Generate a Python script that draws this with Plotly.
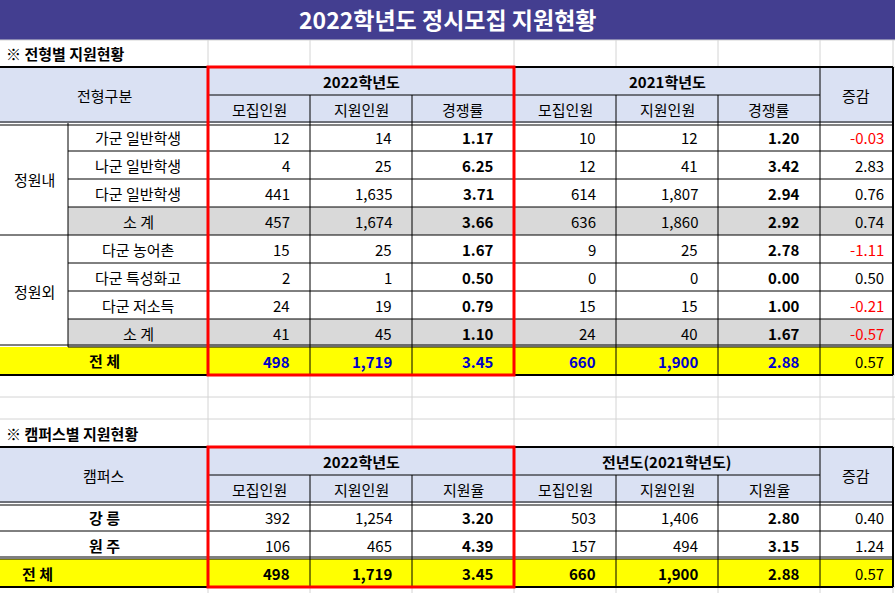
import plotly.graph_objects as go

title = "2022학년도 정시모집 지원현황"
sec1 = "※ 전형별 지원현황"
sec2 = "※ 캠퍼스별 지원현황"
groups = ["정원내", "정원외"]
types = ["가군 일반학생", "나군 일반학생", "다군 일반학생", "소 계",
         "다군 농어촌", "다군 특성화고", "다군 저소득", "소 계"]
rec22 = [12, 4, 441, 457, 15, 2, 24, 41]
app22 = [14, 25, 1635, 1674, 25, 1, 19, 45]
rat22 = [1.17, 6.25, 3.71, 3.66, 1.67, 0.50, 0.79, 1.10]
rec21 = [10, 12, 614, 636, 9, 0, 15, 24]
app21 = [12, 41, 1807, 1860, 25, 0, 15, 40]
rat21 = [1.20, 3.42, 2.94, 2.92, 2.78, 0.00, 1.00, 1.67]
diff = [-0.03, 2.83, 0.76, 0.74, -1.11, 0.50, -0.21, -0.57]
tot1 = [498, 1719, 3.45, 660, 1900, 2.88, 0.57]
campus = ["강 릉", "원 주"]
c_rec22 = [392, 106]
c_app22 = [1254, 465]
c_rat22 = [3.20, 4.39]
c_rec21 = [503, 157]
c_app21 = [1406, 494]
c_rat21 = [2.80, 3.15]
c_diff = [0.40, 1.24]
tot2 = [498, 1719, 3.45, 660, 1900, 2.88, 0.57]

W, H = 895, 593
FONT = "Noto Sans CJK KR, Malgun Gothic, sans-serif"
HDR = "#dae1f3"
GRAY = "#d9d9d9"
YEL = "#ffff00"
FS = 15
xs = [0, 68, 208, 310, 412, 514, 616, 718, 820, 893]
shapes, ann = [], []

def rect(x0, y0, x1, y1, fill=None, line=None, lw=1):
    shapes.append(dict(type="rect", x0=x0, y0=y0, x1=x1, y1=y1, xref="x", yref="y",
                       fillcolor=fill or "rgba(0,0,0,0)",
                       line=dict(color=line or "rgba(0,0,0,0)", width=lw if line else 0),
                       layer="below" if line is None else "above"))

def ln(x0, y0, x1, y1, color="black", w=1):
    shapes.append(dict(type="line", x0=x0, y0=y0, x1=x1, y1=y1, xref="x", yref="y",
                       line=dict(color=color, width=w)))

def txt(x, y, s, anchor="center", size=FS, color="black", bold=False):
    if bold:
        s = "<b>" + s + "</b>"
    ann.append(dict(x=x, y=y, text=s, xref="x", yref="y", showarrow=False,
                    xanchor=anchor, yanchor="middle", font=dict(family=FONT, size=size, color=color)))

def fmt(v, ratio):
    return f"{v:.2f}" if ratio else f"{v:,}"

for y in [40, 67, 375, 397, 419, 447, 587]:
    ln(0, y, W, y, "#d4d4d4", 1)
for x in xs[2:]:
    ln(x, 40, x, 67, "#d4d4d4", 1)
    ln(x, 375, x, 447, "#d4d4d4", 1)
    ln(x, 587, x, 593, "#d4d4d4", 1)

rect(0, 0, W, 40, fill="#433e90")
txt(W / 2, 19, title, size=23, color="white", bold=True)
txt(4, 53, sec1, "left", 15, bold=True)
txt(4, 433, sec2, "left", 15, bold=True)

def table(top, hdr_left, year22, year21, third):
    rect(0, top, 893, top + 56, fill=HDR)
    txt(104, top + 28, hdr_left)
    txt(361, top + 14, year22, bold=True)
    txt(667, top + 14, year21, bold=True)
    txt(856, top + 28, "증감")
    for i, lab in enumerate(["모집인원", "지원인원", third] * 2):
        txt((xs[2 + i] + xs[3 + i]) / 2, top + 42, lab)
    ln(208, top + 28, 820, top + 28)
    for x in xs[3:8]:
        ln(x, top + 28, x, top + 56)
    for x in [208, 514, 820]:
        ln(x, top, x, top + 56)
    ln(0, top, 893, top, w=2)
    ln(893, top, 893, top + 56, w=2)
    ln(0, top + 55, 893, top + 55)
    ln(0, top + 58, 893, top + 58)

def numrow(y0, vals, colors=None, bold_idx=(2, 5)):
    for i, v in enumerate(vals):
        ratio = i in (2, 5, 6)
        x1 = xs[3 + i]
        pad = 7 if i == 6 else 18
        col = colors[i] if colors else "black"
        txt(x1 - pad, y0 + 14, fmt(v, ratio), "right", FS, col, i in bold_idx)
    for x in xs[3:9]:
        ln(x, y0, x, y0 + 28)

table(67, "전형구분", "2022학년도", "2021학년도", "경쟁률")
for r in range(8):
    y0 = 123 + r * 28
    if types[r] == "소 계":
        rect(68, y0, 893, y0 + 28, fill=GRAY)
    txt(138, y0 + 14, types[r])
    vals = [rec22[r], app22[r], rat22[r], rec21[r], app21[r], rat21[r], diff[r]]
    cols = ["black"] * 6 + ["red" if diff[r] < 0 else "black"]
    numrow(y0, vals, colors=cols)
    ln(68, y0 + 28, 893, y0 + 28)
ln(68, 123, 68, 347)
ln(0, 235, 68, 235)
txt(34, 179, groups[0])
txt(34, 291, groups[1])
ln(893, 123, 893, 347, w=2)
rect(0, 347, 893, 375, fill=YEL)
ln(0, 345, 893, 345)
txt(104, 360, "전 체", bold=True)
numrow(347, tot1, colors=["#0000cc"] * 6 + ["black"], bold_idx=(0, 1, 2, 3, 4, 5))
ln(208, 347, 208, 375)
ln(0, 375, 893, 375, w=2)
ln(893, 347, 893, 375, w=2)
rect(208, 67, 514, 375, line="red", lw=3)

table(447, "캠퍼스", "2022학년도", "전년도(2021학년도)", "지원율")
for r in range(2):
    y0 = 503 + r * 28
    txt(104, y0 + 14, campus[r], bold=True)
    vals = [c_rec22[r], c_app22[r], c_rat22[r], c_rec21[r], c_app21[r], c_rat21[r], c_diff[r]]
    numrow(y0, vals)
    ln(0, y0 + 28, 893, y0 + 28)
    ln(208, y0, 208, y0 + 28)
ln(893, 503, 893, 559, w=2)
rect(0, 559, 893, 587, fill=YEL)
ln(0, 557, 893, 557)
txt(20, 573, "전 체", "left", bold=True)
numrow(559, tot2, bold_idx=(0, 1, 2, 3, 4, 5))
ln(208, 559, 208, 587)
ln(0, 587, 893, 587, w=2)
ln(893, 559, 893, 587, w=2)
rect(208, 447, 514, 587, line="red", lw=3)

fig = go.Figure()
fig.update_layout(width=W, height=H, margin=dict(l=0, r=0, t=0, b=0),
                  paper_bgcolor="white", plot_bgcolor="white",
                  xaxis=dict(range=[0, W], visible=False, fixedrange=True),
                  yaxis=dict(range=[H, 0], visible=False, fixedrange=True),
                  shapes=shapes, annotations=ann, showlegend=False)
fig.write_html("out.html", config={"displayModeBar": False},
               post_script="document.body.style.margin='0';document.body.style.overflow='hidden';")
